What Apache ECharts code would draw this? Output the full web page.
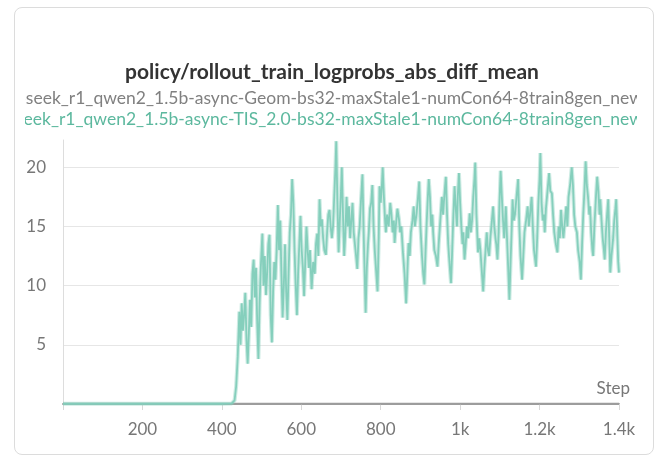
<!DOCTYPE html>
<html>
<head>
<meta charset="utf-8">
<script src="https://cdn.jsdelivr.net/npm/echarts@6/dist/echarts.min.js"></script>
<style>
html,body{margin:0;padding:0;background:#fff;}
#card{position:absolute;left:14px;top:7px;width:638px;height:446px;border:1px solid #dcdcdc;border-radius:8px;background:#fff;}
#chart{position:absolute;left:0;top:0;width:664px;height:472px;}
.leg{position:absolute;left:25px;width:612px;height:22px;overflow:hidden;white-space:nowrap;font-family:Lato,"Noto Sans",sans-serif;font-size:17.5px;line-height:22px;}
.leg span{position:absolute;right:-6px;top:0;}
</style>
</head>
<body>
<div id="card"></div>
<div id="chart"></div>
<div class="leg" id="leg1" style="top:87px;color:#808080;"><span>deepseek_r1_qwen2_1.5b-async-Geom-bs32-maxStale1-numCon64-8train8gen_new</span></div>
<div class="leg" id="leg2" style="top:108px;color:#5cb89e;"><span>deepseek_r1_qwen2_1.5b-async-TIS_2.0-bs32-maxStale1-numCon64-8train8gen_new</span></div>
<script>
const titleText = 'policy/rollout_train_logprobs_abs_diff_mean';
const xTicks = [200, 400, 600, 800, 1000, 1200, 1400];

const geomSteps = [0, 200, 400, 600, 800, 1000, 1200, 1400];
const geomValues = [0.03, 0.03, 0.03, 0.03, 0.03, 0.03, 0.03, 0.03];

const tisSteps = [0,50,100,150,200,250,300,350,400,425,432,436,440,444,447,450,453,456,459,462,465,468,471,474,477,480,483,486,489,492,495,498,502,505,508,511,514,517,520,523,526,529,532,535,538,541,544,547,550,553,556,559,562,565,568,571,574,577,580,583,586,589,592,595,598,601,604,607,610,613,616,619,622,626,630,634,637,640,643,646,649,652,655,658,662,665,668,671,674,677,680,683,686,688,691,694,697,700,702,705,708,711,714,717,720,723,726,729,732,735,738,741,744,747,750,754,757,760,762,765,768,770,773,776,779,782,785,788,792,795,797,800,803,805,808,811,813,816,820,824,827,830,833,835,838,842,846,849,852,856,860,864,867,870,873,876,880,883,886,890,894,897,900,904,907,910,913,916,918,921,924,927,930,932,935,939,943,946,950,954,957,960,964,967,970,973,977,980,983,986,989,992,994,997,1000,1003,1006,1008,1011,1014,1017,1020,1024,1027,1030,1033,1036,1038,1041,1045,1048,1051,1054,1058,1061,1064,1067,1070,1073,1076,1080,1083,1086,1089,1091,1094,1097,1099,1102,1105,1108,1111,1115,1118,1121,1124,1127,1130,1132,1135,1138,1142,1146,1149,1152,1156,1159,1162,1166,1170,1173,1176,1180,1183,1186,1191,1194,1197,1200,1202,1205,1208,1211,1213,1216,1220,1224,1227,1231,1234,1237,1241,1245,1248,1251,1254,1257,1260,1264,1267,1270,1273,1277,1281,1284,1287,1290,1294,1297,1301,1304,1307,1310,1313,1316,1319,1322,1325,1327,1330,1333,1335,1338,1342,1345,1348,1351,1353,1356,1359,1362,1364,1367,1370,1373,1375,1378,1381,1385,1388,1391,1393,1396,1398,1400];
const tisValues = [0.02,0.02,0.02,0.02,0.02,0.02,0.02,0.02,0.02,0.05,0.3,1.5,4.0,7.8,5.0,8.5,6.2,7.5,9.4,5.5,3.4,6.0,8.8,6.5,11.0,12.2,9.0,11.5,7.0,3.8,8.5,11.5,14.4,10.0,12.5,9.2,11.0,13.5,14.3,7.5,5.2,9.5,12.0,10.5,13.0,16.8,13.0,15.5,11.0,7.3,10.0,13.5,9.5,7.1,11.0,14.5,16.0,19.0,17.0,13.0,10.0,7.5,11.0,13.5,15.9,13.0,11.5,9.1,12.0,15.0,13.0,11.5,13.0,9.7,12.0,11.0,13.5,14.4,12.5,17.3,15.0,15.6,14.0,13.0,12.6,14.5,16.0,16.4,15.0,14.0,15.0,17.5,20.0,22.2,17.0,12.8,15.5,18.0,20.0,16.0,12.5,14.5,17.5,15.0,16.7,14.0,15.5,17.0,14.5,13.5,12.5,11.4,14.0,15.0,17.0,19.4,14.5,10.5,7.7,11.5,13.5,14.5,16.5,17.0,18.5,15.0,13.0,11.5,9.5,14.0,18.4,17.0,18.5,20.0,17.5,15.5,14.5,16.0,15.0,17.0,16.0,14.5,15.5,13.6,15.0,16.5,15.6,14.5,15.0,12.8,11.0,8.5,11.0,13.6,12.5,14.5,15.5,16.7,15.0,16.0,17.5,18.8,15.0,12.5,11.0,10.1,13.0,15.5,17.0,19.0,17.5,15.0,16.0,14.5,13.0,12.5,11.6,13.5,15.5,17.5,16.0,17.5,19.2,16.0,13.5,12.0,10.2,13.0,16.0,18.4,16.5,15.0,17.5,19.5,17.0,15.0,13.5,14.5,12.2,13.5,15.0,14.0,16.1,14.5,15.5,17.5,19.0,20.4,16.0,12.8,14.0,13.0,11.5,9.5,11.5,13.0,14.5,13.0,12.5,14.0,15.5,16.7,15.0,14.0,13.5,12.2,14.5,17.0,19.7,17.5,15.5,14.0,16.7,14.0,11.5,8.8,12.0,15.0,17.3,15.5,16.0,17.5,19.0,15.0,12.5,10.5,12.5,14.5,15.5,16.7,15.0,16.0,17.5,15.0,13.0,11.6,14.0,17.0,19.0,21.2,17.0,15.5,16.0,14.5,16.5,18.0,19.5,18.0,17.8,16.0,14.5,13.5,12.8,15.0,14.0,16.4,15.0,14.0,15.5,16.7,15.0,17.5,18.5,20.0,18.5,16.0,15.0,14.5,13.0,12.0,10.5,13.5,16.0,18.0,20.5,18.5,17.5,16.0,16.7,14.5,13.0,12.5,15.0,17.5,19.2,18.0,16.0,17.3,15.5,14.0,13.0,12.2,14.5,16.0,17.3,14.5,11.1,12.5,13.9,15.5,16.5,17.3,14.0,12.0,11.1];

const pair = (xs, ys) => xs.map((x, i) => [x, ys[i]]);
const FONT = 'Lato, "Noto Sans", sans-serif';

const chart = echarts.init(document.getElementById('chart'), null, {renderer: 'canvas'});
chart.setOption({
  animation: false,
  backgroundColor: 'transparent',
  title: {
    text: titleText, left: 'center', top: 57,
    textStyle: {fontFamily: FONT, fontSize: 21, fontWeight: 'bold', color: '#333'}
  },
  grid: {left: 63, right: 45, top: 140, bottom: 68, containLabel: false},
  xAxis: {
    type: 'value', min: 0, max: 1400, interval: 200,
    name: 'Step', nameLocation: 'end', nameGap: 0,
    nameTextStyle: {fontFamily: FONT, fontSize: 17, color: '#777', align: 'right', verticalAlign: 'bottom', padding: [0, -11, 7, 0]},
    axisLine: {show: true, lineStyle: {color: '#a0a0a0', width: 2}},
    axisTick: {show: true, length: 6, lineStyle: {color: '#d8d8d8'}},
    axisLabel: {
      fontFamily: FONT, fontSize: 17, color: '#777', margin: 17,
      formatter: v => xTicks.indexOf(v) < 0 ? '' : (v >= 1000 ? (v / 1000) + 'k' : String(v))
    },
    splitLine: {show: false}
  },
  yAxis: {
    type: 'value', min: 0, max: 22.3, interval: 5,
    axisLine: {show: true, lineStyle: {color: '#dddddd'}},
    axisTick: {show: false},
    axisLabel: {
      fontFamily: FONT, fontSize: 17, color: '#777', margin: 17, showMaxLabel: false,
      formatter: v => (v > 0 && v % 5 === 0) ? String(v) : ''
    },
    splitLine: {show: true, lineStyle: {color: ['#e6e6e6', '#e6e6e6', '#e6e6e6', '#e6e6e6', '#e6e6e6', 'rgba(0,0,0,0)'], width: 1}}
  },
  series: [
    {
      name: 'Geom', type: 'line', data: pair(geomSteps, geomValues), showSymbol: false,
      lineStyle: {color: '#9c9c9c', width: 2}, z: 2
    },
    {
      name: 'TIS band', type: 'line', data: pair(tisSteps, tisValues), showSymbol: false,
      lineStyle: {color: '#8fd3c2', width: 4, opacity: 0.45}, z: 3
    },
    {
      name: 'TIS', type: 'line', data: pair(tisSteps, tisValues), showSymbol: false,
      lineStyle: {color: '#82ceba', width: 1.8, opacity: 0.95}, z: 4
    }
  ]
});
</script>
</body>
</html>
